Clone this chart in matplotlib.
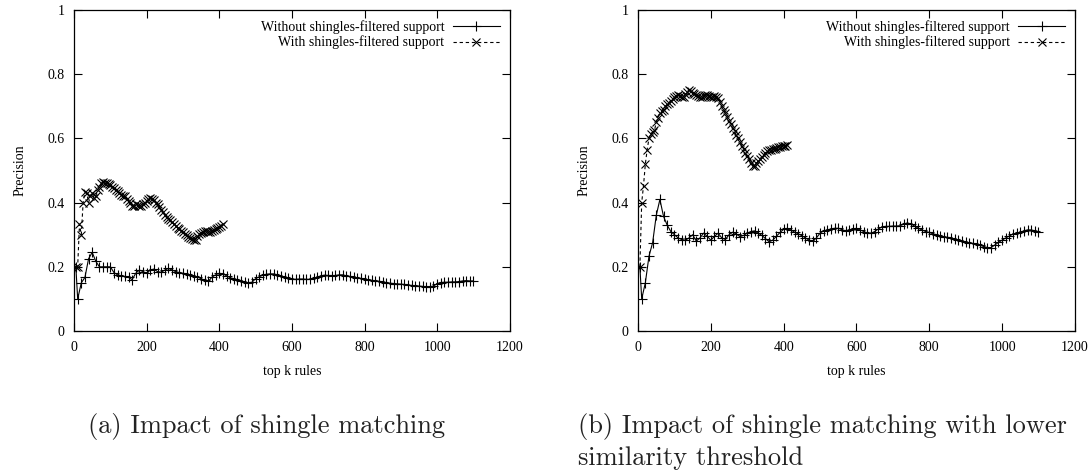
#!/usr/bin/env python3

# Precision of the top k rules, with and without shingles-filtered support.

import numpy as np
import matplotlib
matplotlib.use('Agg')
import matplotlib.pyplot as plt

# k values (top k rules) for both series
k_without = np.array([5] + list(range(10, 1101, 10)))
k_with = np.arange(5, 411, 5)

# (a) Impact of shingle matching
prec_a_without = [
    0.20,
    0.10, 0.15, 0.167, 0.225, 0.245, 0.217, 0.20, 0.20, 0.20, 0.20,
    0.182, 0.175, 0.172, 0.17, 0.167, 0.16, 0.18, 0.19, 0.185, 0.18,
    0.19, 0.193, 0.185, 0.183, 0.19, 0.195, 0.19, 0.185, 0.182, 0.18,
    0.178, 0.175, 0.172, 0.168, 0.163, 0.158, 0.155, 0.168, 0.175, 0.18,
    0.178, 0.172, 0.166, 0.163, 0.16, 0.157, 0.153, 0.15, 0.152, 0.163,
    0.169, 0.174, 0.177, 0.178, 0.178, 0.175, 0.171, 0.168, 0.165, 0.162,
    0.161, 0.162, 0.162, 0.161, 0.161, 0.164, 0.168, 0.172, 0.174, 0.173,
    0.172, 0.173, 0.175, 0.175, 0.172, 0.17, 0.168, 0.166, 0.164, 0.162,
    0.16, 0.158, 0.156, 0.155, 0.153, 0.151, 0.149, 0.148, 0.147, 0.146,
    0.145, 0.143, 0.142, 0.141, 0.14, 0.139, 0.138, 0.138, 0.14, 0.148,
    0.151, 0.152, 0.152, 0.153, 0.153, 0.154, 0.156, 0.157, 0.156, 0.156,
]
prec_a_with = [
    0.20, 0.20, 0.333, 0.30, 0.40, 0.433, 0.43, 0.40, 0.42, 0.43,
    0.415, 0.42, 0.44, 0.45, 0.46, 0.465, 0.462, 0.46, 0.458, 0.455,
    0.45, 0.445, 0.44, 0.435, 0.43, 0.425, 0.42, 0.42, 0.41, 0.405,
    0.398, 0.39, 0.388, 0.395, 0.393, 0.39, 0.39, 0.395, 0.40, 0.405,
    0.41, 0.413, 0.41, 0.408, 0.40, 0.395, 0.385, 0.378, 0.37, 0.362,
    0.356, 0.35, 0.345, 0.34, 0.333, 0.327, 0.322, 0.317, 0.312, 0.307,
    0.302, 0.298, 0.294, 0.29, 0.287, 0.284, 0.285, 0.295, 0.302, 0.305,
    0.31, 0.312, 0.313, 0.31, 0.31, 0.312, 0.315, 0.318, 0.322, 0.325,
    0.328, 0.333,
]

# (b) Impact of shingle matching with lower similarity threshold
prec_b_without = [
    0.20,
    0.10, 0.15, 0.233, 0.275, 0.36, 0.41, 0.357, 0.33, 0.31, 0.30,
    0.29, 0.285, 0.283, 0.29, 0.30, 0.28, 0.29, 0.305, 0.295, 0.283,
    0.295, 0.305, 0.29, 0.285, 0.30, 0.308, 0.302, 0.294, 0.298, 0.305,
    0.31, 0.312, 0.305, 0.298, 0.288, 0.278, 0.283, 0.295, 0.307, 0.317,
    0.32, 0.315, 0.308, 0.303, 0.297, 0.29, 0.283, 0.28, 0.29, 0.305,
    0.312, 0.315, 0.318, 0.32, 0.32, 0.316, 0.312, 0.315, 0.318, 0.32,
    0.315, 0.31, 0.305, 0.304, 0.31, 0.318, 0.324, 0.326, 0.326, 0.327,
    0.327, 0.328, 0.333, 0.337, 0.333, 0.327, 0.32, 0.315, 0.31, 0.307,
    0.303, 0.30, 0.297, 0.294, 0.292, 0.29, 0.287, 0.284, 0.281, 0.278,
    0.275, 0.273, 0.27, 0.267, 0.263, 0.26, 0.26, 0.268, 0.276, 0.283,
    0.29, 0.296, 0.302, 0.305, 0.308, 0.312, 0.315, 0.315, 0.312, 0.31,
]
prec_b_with = [
    0.20, 0.40, 0.453, 0.52, 0.565, 0.60, 0.615, 0.62, 0.625, 0.65,
    0.665, 0.68, 0.685, 0.69, 0.70, 0.707, 0.712, 0.718, 0.722, 0.728,
    0.733, 0.735, 0.733, 0.73, 0.73, 0.738, 0.745, 0.752, 0.748, 0.742,
    0.738, 0.735, 0.732, 0.73, 0.728, 0.732, 0.735, 0.735, 0.732, 0.728,
    0.73, 0.732, 0.728, 0.725, 0.715, 0.70, 0.69, 0.678, 0.667, 0.655,
    0.645, 0.633, 0.622, 0.61, 0.60, 0.59, 0.578, 0.567, 0.556, 0.545,
    0.535, 0.524, 0.514, 0.515, 0.522, 0.53, 0.537, 0.543, 0.55, 0.556,
    0.56, 0.563, 0.565, 0.568, 0.566, 0.57, 0.572, 0.573, 0.575, 0.577,
    0.578, 0.58,
]

x_ticks = [0, 200, 400, 600, 800, 1000, 1200]
y_ticks = [0, 0.2, 0.4, 0.6, 0.8, 1.0]
y_tick_labels = ['0', '0.2', '0.4', '0.6', '0.8', '1']
label_without = 'Without shingles-filtered support'
label_with = 'With shingles-filtered support'

plt.rcParams['font.family'] = ['Liberation Serif', 'DejaVu Serif']
plt.rcParams['font.size'] = 10


def plot_panel(ax, prec_without, prec_with):
    ax.plot(k_without, prec_without, color='black', linewidth=0.8,
            marker='+', markersize=7, markeredgewidth=0.8,
            label=label_without)
    ax.plot(k_with, prec_with, color='black', linewidth=0.8,
            linestyle=(0, (3, 2.5)), marker='x', markersize=5.5,
            markeredgewidth=0.8, label=label_with)

    ax.set_xlim(0, 1200)
    ax.set_ylim(0, 1)
    ax.set_xticks(x_ticks)
    ax.set_yticks(y_ticks)
    ax.set_yticklabels(y_tick_labels)
    ax.tick_params(direction='in', top=True, right=True, length=5.5,
                   width=0.8, labelsize=10)
    ax.tick_params(axis='x', pad=7)
    ax.tick_params(axis='y', pad=7)
    for s in ax.spines.values():
        s.set_linewidth(0.9)
    ax.set_xlabel('top k rules', fontsize=10, labelpad=8)
    ax.set_ylabel('Precision', fontsize=10, labelpad=15)

    ax.legend(loc='upper right', frameon=False, markerfirst=False,
              handlelength=3.4, handletextpad=0.6, labelspacing=0.15,
              borderaxespad=0.3, numpoints=1, fontsize=10)


fig = plt.figure(figsize=(10.92, 4.74), dpi=100)
ax_a = fig.add_axes([0.0678, 0.3017, 0.399, 0.677])
ax_b = fig.add_axes([0.5843, 0.3017, 0.400, 0.677])

plot_panel(ax_a, prec_a_without, prec_a_with)
plot_panel(ax_b, prec_b_without, prec_b_with)

# Sub-figure captions (LaTeX style)
cap_font = dict(family='cmr10', fontsize=19, color='#222222')
fig.text(88 / 1092, 1 - 427 / 474, '(a) Impact of shingle matching',
         ha='left', va='center', **cap_font)
fig.text(578 / 1092, 1 - 427 / 474, '(b) Impact of shingle matching with lower',
         ha='left', va='center', **cap_font)
fig.text(578 / 1092, 1 - 458 / 474, 'similarity threshold',
         ha='left', va='center', **cap_font)

plt.savefig('out.png', dpi=100)
